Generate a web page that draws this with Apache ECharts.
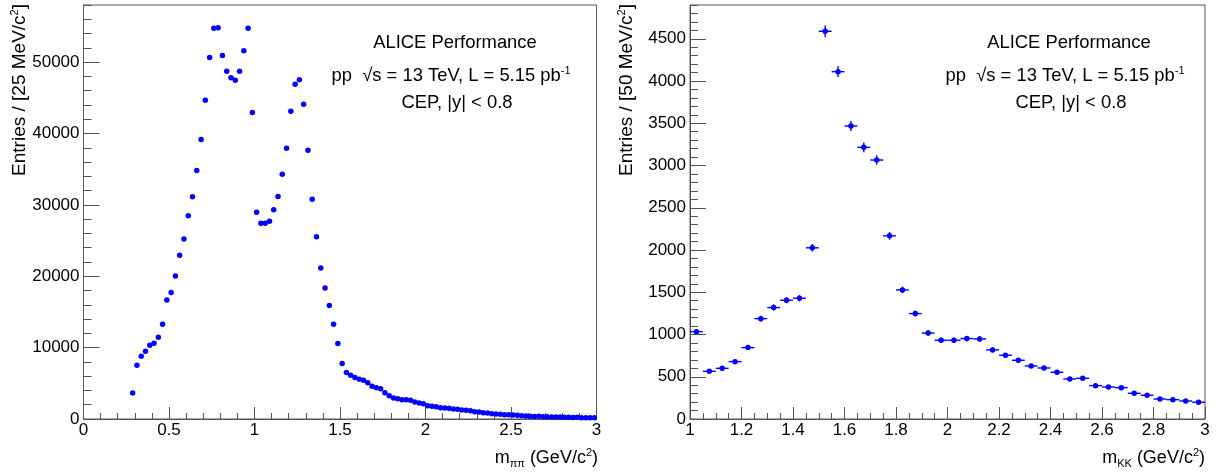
<!DOCTYPE html>
<html>
<head>
<meta charset="utf-8">
<script src="https://cdn.jsdelivr.net/npm/echarts@6/dist/echarts.min.js"></script>
<style>
  html, body { margin: 0; padding: 0; background: #ffffff; }
  #chart { width: 1220px; height: 475px; }
</style>
</head>
<body>
<div id="chart"></div>
<script>
// ππ invariant-mass spectrum: 25 MeV/c² bins starting at 0.275 GeV/c²
const pipiLowEdge = 0.275;
const pipiBinWidth = 0.025;
const pipiCounts = [
  3650, 7530, 8790, 9490, 10330, 10610, 11450, 13270, 16680, 17710,
  20050, 22950, 25230, 28460, 31120, 34810, 39150, 44670, 50650, 54760,
  54810, 50930, 48730, 47800, 47470, 48730, 51580, 54760, 42940, 28970,
  27430, 27430, 27710, 29300, 31160, 34300, 37940, 43130, 46910, 47520,
  44110, 37660, 30800, 25550, 21170, 18360, 15890, 13270, 10560, 7760,
  6500, 6120, 5800, 5560, 5420, 5090, 4580, 4390, 4250, 3690,
  3270, 2940, 2850, 2710, 2710, 2620, 2380, 2240, 2150, 1870,
  1780, 1730, 1590, 1540, 1500, 1400, 1360, 1260, 1220, 1160,
  1030, 980, 890, 840, 750, 700, 660, 610, 610, 560,
  520, 470, 420, 380, 340, 370, 330, 320, 290, 280,
  270, 260, 250, 200, 240, 190, 180, 170, 160
];

// KK invariant-mass spectrum: 50 MeV/c² bins from 1.0 to 3.0 GeV/c²
const kkLowEdge = 1.0;
const kkBinWidth = 0.05;
const kkCounts = [
  1034, 565, 600, 679, 845, 1188, 1319, 1406, 1430, 2026,
  4589, 4111, 3468, 3215, 3065, 2168, 1528, 1248, 1017, 932,
  932, 952, 948, 818, 755, 695, 628, 604, 553, 474,
  482, 395, 379, 371, 304, 281, 237, 229, 213, 198
];

const pipiXTicks = { min: 0, max: 3, major: 0.5, minorSplit: 5 };
const kkXTicks = { min: 1, max: 3, major: 0.2, minorSplit: 4 };
const pipiYTicks = { max: 58000, major: 10000, minor: 2000 };
const kkYTicks = { max: 4900, major: 500, minor: 100 };

const FONT = '"Liberation Sans", Arial, Helvetica, sans-serif';
const FRAME = '#555555';
const MARKER = '#0000ff';

const pipiPoints = pipiCounts.map((c, i) => [pipiLowEdge + (i + 0.5) * pipiBinWidth, c]);
const kkPoints = kkCounts.map((c, i) => [kkLowEdge + (i + 0.5) * kkBinWidth, c]);

// plain numbers, no thousands separators
const plain = v => String(Math.round(v * 1000) / 1000);

function xAxisFor(gridIndex, t) {
  return {
    type: 'value', gridIndex, min: t.min, max: t.max, interval: t.major,
    position: 'bottom',
    axisLine: { show: true, onZero: false, lineStyle: { color: FRAME, width: 1 } },
    axisTick: { show: true, inside: true, length: 12, lineStyle: { color: FRAME, width: 1 } },
    minorTick: { show: true, splitNumber: t.minorSplit, length: 6, lineStyle: { color: FRAME, width: 1 } },
    axisLabel: { color: '#000', fontSize: 17, fontFamily: FONT, margin: 3, formatter: plain },
    splitLine: { show: false }, minorSplitLine: { show: false }
  };
}

function yAxesFor(gridIndex, t) {
  return [
    {
      type: 'value', gridIndex, min: 0, max: t.max, interval: t.major, position: 'left',
      axisLine: { show: true, onZero: false, lineStyle: { color: FRAME, width: 1 } },
      axisTick: { show: true, inside: true, length: 16, lineStyle: { color: FRAME, width: 1 } },
      axisLabel: { showMaxLabel: false, color: '#000', fontSize: 17, fontFamily: FONT, margin: 4, formatter: plain },
      splitLine: { show: false }
    },
    {
      type: 'value', gridIndex, min: 0, max: t.max, interval: t.minor, position: 'left',
      axisLine: { show: false },
      axisTick: { show: true, inside: true, length: 8, lineStyle: { color: FRAME, width: 1 } },
      axisLabel: { show: false },
      splitLine: { show: false }
    }
  ];
}

// horizontal bar spans the bin, vertical bar is the Poisson uncertainty
function errorBars(binWidth) {
  return function (params, api) {
    const x = api.value(0), y = api.value(1), e = Math.sqrt(y);
    const l = api.coord([x - binWidth / 2, y]);
    const r = api.coord([x + binWidth / 2, y]);
    const t = api.coord([x, y + e]);
    const b = api.coord([x, y - e]);
    const st = { stroke: MARKER, lineWidth: 1.4 };
    return {
      type: 'group',
      children: [
        { type: 'line', shape: { x1: l[0], y1: l[1], x2: r[0], y2: r[1] }, style: st },
        { type: 'line', shape: { x1: t[0], y1: t[1], x2: b[0], y2: b[1] }, style: st }
      ]
    };
  };
}

const SUP = { fontSize: 11, lineHeight: 12, verticalAlign: 'top', fontFamily: FONT, fill: '#000' };
const SUB = { fontSize: 11, lineHeight: 11, verticalAlign: 'bottom', fontFamily: FONT, fill: '#000' };

function richText(x, y, text, opts) {
  opts = opts || {};
  return {
    type: 'text', x, y, rotation: opts.rotation || 0, silent: true,
    style: {
      text, fill: '#000', font: (opts.size || 18) + 'px ' + FONT,
      align: opts.align || 'center', verticalAlign: 'middle',
      rich: {
        n: { fontSize: opts.size || 18, lineHeight: 22, fontFamily: FONT, fill: '#000' },
        sup: SUP, sub: SUB
      }
    }
  };
}

function panelLabels(cx) {
  return [
    richText(cx, 43, '{n|ALICE Performance}', { size: 18.4 }),
    richText(cx - 4, 76, '{n|pp  √s = 13 TeV, L = 5.15 pb}{sup|-1}', { size: 18.4 }),
    richText(cx + 2, 103, '{n|CEP, |y| < 0.8}', { size: 18.4 })
  ];
}

const chart = echarts.init(document.getElementById('chart'), null, { renderer: 'canvas' });

chart.setOption({
  animation: false,
  backgroundColor: '#ffffff',
  grid: [
    { left: 83.5, right: 623.5, top: 5, bottom: 56, show: true, borderColor: FRAME, borderWidth: 1, backgroundColor: 'transparent' },
    { left: 690, right: 15, top: 5, bottom: 56, show: true, borderColor: FRAME, borderWidth: 1, backgroundColor: 'transparent' }
  ],
  xAxis: [xAxisFor(0, pipiXTicks), xAxisFor(1, kkXTicks)],
  yAxis: [...yAxesFor(0, pipiYTicks), ...yAxesFor(1, kkYTicks)],
  series: [
    {
      type: 'scatter', xAxisIndex: 0, yAxisIndex: 0, data: pipiPoints,
      symbol: 'circle', symbolSize: 5.5, itemStyle: { color: MARKER, opacity: 1 }
    },
    {
      type: 'custom', xAxisIndex: 1, yAxisIndex: 2, data: kkPoints,
      renderItem: errorBars(kkBinWidth), encode: { x: 0, y: 1 }
    },
    {
      type: 'scatter', xAxisIndex: 1, yAxisIndex: 2, data: kkPoints,
      symbol: 'circle', symbolSize: 5.5, itemStyle: { color: MARKER, opacity: 1 }
    }
  ],
  graphic: [
    ...panelLabels(455),
    ...panelLabels(1069),
    richText(20, 4, '{n|Entries / [25 MeV/c}{sup|2}{n|]}', { size: 19, align: 'right', rotation: Math.PI / 2 }),
    richText(627, 4, '{n|Entries / [50 MeV/c}{sup|2}{n|]}', { size: 19, align: 'right', rotation: Math.PI / 2 }),
    richText(598, 458, '{n|m}{sub|ππ}{n| (GeV/c}{sup|2}{n|)}', { size: 18, align: 'right' }),
    richText(1205, 458, '{n|m}{sub|KK}{n| (GeV/c}{sup|2}{n|)}', { size: 18, align: 'right' })
  ]
});
</script>
</body>
</html>
